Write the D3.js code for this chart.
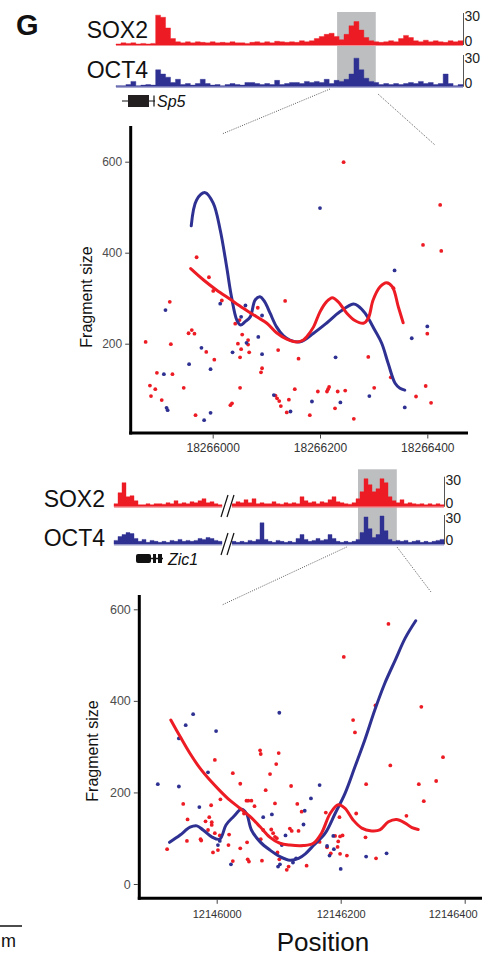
<!DOCTYPE html>
<html>
<head>
<meta charset="utf-8">
<script src="https://cdn.jsdelivr.net/npm/d3@7"></script>
<style>
body { margin: 0; background: #fff; }
svg { display: block; font-family: "Liberation Sans", Arial, sans-serif; }
</style>
</head>
<body>
<svg></svg>
<script>
const size = {w: 493, h: 957};
const svg = d3.select('svg').attr('width', size.w).attr('height', size.h);
const RED = '#ed1c24', BLUE = '#2e3192';

// coverage tracks (reads, 0-30 scale), one value per bin
const sox2Top = [1,2,1.5,2,1,1.5,1,1.5,28,26,16,6,3,2,3,2,3,2.5,2,3,2,2.5,2,3,2,2,1.5,2.5,3,2,
  3,2,3.5,3,2.5,3,2.5,4,3,4,6,8,10,11,8,5,10,18,22,14,7,4,3,2.5,3,4,3,6,9,7,4,3,4.5,3,4,3,2.5,4,3,4];
const oct4Top = [1,1,2,5,1,1.5,2,1.5,16,12,9,4,7,2,3,1.5,3,7,3,1.5,2,1,2,3,2,1.5,4,4,3,2,
  3,2,6,2,3,4,4,3,5,4,5,4,7,3,6,5,7,12,27,16,8,5,4,2,3,2,3,2,3,4,3,5,3,4,2,3,12,3,1,2];
const sox2BotL = [3,14,24,10,11,6,2,2,3,2,3,3,2.5,4,3,6,3,4,3,5,4,6,8,4,5,3,2];
const sox2BotR = [3,5,4,7,4,8,3,4,3,3,5,3,2.5,4,3,4,3,10,6,4,5,3,5,4,7,10,5,4,3,2.5,
  4,8,15,28,22,15,18,28,24,10,6,4,7,3,4,3,2.5,3,2,3,2,3,2];
const oct4BotL = [4,8,10,12,11,6,3,5,2,4,3,2,3,2,4,3,5,3,4,3,4,6,5,7,6,4,3];
const oct4BotR = [3,2,3,2,4,3,5,22,5,3,2,4,3,2,3,2,6,10,5,3,4,6,4,5,10,6,3,2,3,2,
  3,5,12,28,16,7,10,29,14,5,3,4,3,4,2,3,4,2,3,2,3,4,5];
const topHighlight = [44.6, 52.4];   // bins
const botHighlight = [31.5, 41.2];   // bins of right section

// Sp5 locus: [position, fragment size]
const topSox2Pts = [[18265875,204],[18265883,108],[18265885,85],[18265893,100],[18265896,136],[18265905,76],
  [18265920,292],[18265922,199],[18265925,133],[18265946,103],[18265955,223],[18265961,230],[18265966,222],
  [18265968,43],[18265970,390],[18265988,182],[18265993,346],[18266001,316],[18266003,165],[18266017,295],
  [18266033,65],[18266036,69],[18266042,244],[18266047,200],[18266050,252],[18266051,170],[18266051,103],
  [18266053,188],[18266055,220],[18266066,208],[18266066,198],[18266068,181],[18266084,279],[18266090,137],
  [18266092,146],[18266122,186],[18266135,294],[18266117,86],[18266120,80],[18266124,74],[18266127,63],
  [18266138,49],[18266142,77],[18266153,100],[18266160,167],[18266181,43],[18266196,95],[18266213,95],
  [18266215,100],[18266217,105],[18266228,58],[18266233,95],[18266244,599],[18266247,97],[18266263,35],
  [18266290,171],[18266301,103],[18266332,126],[18266337,322],[18266379,84],[18266392,417],[18266397,107],
  [18266400,222],[18266407,70],[18266424,505],[18266426,404]];
const topOct4Pts = [[18265912,274],[18265909,133],[18265914,59],[18265916,54],[18265956,155],[18265979,191],
  [18265984,32],[18265996,144],[18265996,48],[18266014,288],[18266037,181],[18266053,259],[18266061,284],
  [18266063,202],[18266085,215],[18266092,262],[18266092,177],[18266114,87],[18266145,51],[18266185,73],
  [18266200,498],[18266229,170],[18266238,71],[18266292,85],[18266339,361],[18266358,60],[18266371,212],
  [18266400,238]];
const topSox2Fit = [[18265959,365],[18265983,340],[18266007,318],[18266032,298],[18266057,278],[18266082,259],
  [18266101,245],[18266119,224],[18266138,210],[18266157,204],[18266169,208],[18266175,215],[18266188,237],
  [18266200,270],[18266212,292],[18266223,301],[18266234,292],[18266250,267],[18266265,251],[18266281,245],
  [18266290,256],[18266299,296],[18266312,325],[18266324,334],[18266335,325],[18266346,281],[18266355,246]];
const topOct4Fit = [[18265960,459],[18265970,516],[18265986,532],[18266001,509],[18266014,450],[18266026,369],
  [18266035,303],[18266045,252],[18266052,241],[18266060,248],[18266070,259],[18266079,296],[18266088,303],
  [18266097,292],[18266107,267],[18266119,237],[18266132,217],[18266144,208],[18266163,204],[18266188,223],
  [18266212,245],[18266237,270],[18266262,287],[18266271,283],[18266284,267],[18266302,230],[18266315,201],
  [18266327,157],[18266340,113],[18266349,102],[18266358,98]];

// Zic1 locus: [position, fragment size]
const botSox2Pts = [[12145920,76],[12145946,175],[12145952,94],[12145953,141],[12145974,98],[12145975,95],
  [12145982,137],[12145988,146],[12145991,172],[12145992,135],[12145992,129],[12145986,118],[12145997,271],
  [12145994,69],[12145997,111],[12146002,74],[12146005,106],[12146006,185],[12146019,85],[12146020,108],
  [12146026,242],[12146026,50],[12146038,219],[12146038,78],[12146048,182],[12146051,182],[12146056,182],
  [12146044,154],[12146049,91],[12146061,170],[12146050,54],[12146052,49],[12146070,292],[12146071,284],
  [12146079,205],[12146073,51],[12146071,98],[12146086,240],[12146094,176],[12146096,262],[12146100,286],
  [12146075,118],[12146088,119],[12146091,111],[12146094,103],[12146097,100],[12146098,69],[12146101,54],
  [12146113,31],[12146116,38],[12146120,214],[12146130,175],[12146137,158],[12146118,121],[12146121,116],
  [12146132,116],[12146145,40],[12146277,568],[12146205,496],[12146256,390],[12146330,387],[12146220,358],
  [12146223,331],[12146280,259],[12146365,277],[12146241,218],[12146326,218],[12146354,225],[12146334,181],
  [12146176,156],[12146225,154],[12146198,146],[12146306,149],[12146191,105],[12146199,104],[12146203,106],
  [12146166,92],[12146196,93],[12146195,81],[12146178,80],[12146240,102],[12146199,66],[12146184,67],
  [12146210,62],[12146257,56]];
const botOct4Pts = [[12145905,218],[12145939,213],[12145939,318],[12145950,347],[12145962,371],[12145999,334],
  [12145986,244],[12145972,168],[12146005,94],[12146002,85],[12146023,43],[12146101,374],[12146075,146],
  [12146089,152],[12146111,106],[12146105,85],[12146099,38],[12146102,43],[12146123,47],[12146128,56],
  [12146140,130],[12146142,160],[12146152,187],[12146166,216],[12146178,83],[12146182,62],[12146188,105],
  [12146189,76],[12146200,33],[12146241,60],[12146274,67]];
const botSox2Fit = [[12145926,358],[12145941,322],[12145957,285],[12145973,253],[12145989,227],[12146005,204],
  [12146021,183],[12146038,165],[12146054,147],[12146070,125],[12146086,102],[12146102,89],[12146118,85],
  [12146140,84],[12146156,89],[12146169,111],[12146183,154],[12146196,173],[12146207,165],[12146220,140],
  [12146234,122],[12146250,116],[12146263,118],[12146277,136],[12146290,141],[12146304,133],[12146315,123],
  [12146325,119]];
const botOct4Fit = [[12145924,91],[12145941,107],[12145957,124],[12145968,127],[12145978,118],[12145992,103],
  [12146005,98],[12146015,129],[12146027,147],[12146040,163],[12146048,154],[12146056,118],[12146070,92],
  [12146086,74],[12146102,60],[12146118,52],[12146132,56],[12146143,66],[12146156,84],[12146175,111],
  [12146191,154],[12146207,198],[12146223,256],[12146239,315],[12146255,380],[12146271,438],[12146288,489],
  [12146304,537],[12146321,575]];

const topTicksX = [18266000, 18266200, 18266400];
const botTicksX = [12146000, 12146200, 12146400];

function drawTrack(values, xr, base, top, color, lineColor) {
  const x = d3.scaleLinear().domain([0, values.length]).range(xr);
  const y = d3.scaleLinear().domain([0, 30]).range([base, top]);
  const area = d3.area()
    .x((d, i) => x(i))
    .y0(base)
    .y1(d => y(d))
    .curve(d3.curveStepAfter);
  svg.append('path')
    .datum(values.concat([values[values.length - 1]]))
    .attr('d', area)
    .attr('fill', color)
    .attr('stroke', color)
    .attr('stroke-width', 0.4);
  svg.append('line')
    .attr('x1', xr[0]).attr('x2', xr[1])
    .attr('y1', base + 0.5).attr('y2', base + 0.5)
    .attr('stroke', lineColor).attr('stroke-width', 1.2);
  return x;
}

function drawScaleBar(xPos, base, top) {
  svg.append('line')
    .attr('x1', xPos).attr('x2', xPos).attr('y1', top).attr('y2', base)
    .attr('stroke', '#555').attr('stroke-width', 1);
  svg.append('text').attr('x', xPos + 1).attr('y', top + 8).text('30')
    .attr('font-size', 14).attr('fill', '#222');
  svg.append('text').attr('x', xPos + 1).attr('y', base + 1).text('0')
    .attr('font-size', 14).attr('fill', '#222');
}

function dotted(x1, y1, x2, y2) {
  svg.append('line')
    .attr('x1', x1).attr('y1', y1).attr('x2', x2).attr('y2', y2)
    .attr('stroke', '#333').attr('stroke-width', 0.8)
    .attr('stroke-dasharray', '1,1.3');
}

function drawScatter(o) {
  const x = d3.scaleLinear().domain(o.xDomain).range(o.xRange);
  const y = d3.scaleLinear().domain([0, 600]).range(o.yRange);
  const g = svg.append('g');

  const yAxis = d3.axisLeft(y).tickValues(o.yTicks).tickSize(4).tickPadding(3);
  const ya = g.append('g').attr('transform', `translate(${o.left - 1.5},0)`).call(yAxis);
  ya.select('.domain').remove();
  ya.selectAll('line').attr('stroke', '#444');
  ya.selectAll('text').attr('fill', '#4d4d4d').attr('font-size', o.yFont)
    .style('font-family', '"Liberation Sans", Arial, sans-serif');

  const xAxis = d3.axisBottom(x).tickValues(o.xTicks).tickSize(4).tickPadding(o.xPad)
    .tickFormat(d3.format('d'));
  const xa = g.append('g').attr('transform', `translate(0,${o.bottom + 1.5})`).call(xAxis);
  xa.select('.domain').remove();
  xa.selectAll('line').attr('stroke', '#444');
  xa.selectAll('text').attr('fill', '#333').attr('font-size', o.xFont)
    .style('font-family', '"Liberation Sans", Arial, sans-serif');
  if (o.lastShift) xa.selectAll('text').filter((d, i) => i === o.xTicks.length - 1).attr('x', o.lastShift);

  g.append('line').attr('x1', o.left).attr('x2', o.left).attr('y1', o.bottom + 1.5).attr('y2', o.top)
    .attr('stroke', '#000').attr('stroke-width', 3);
  g.append('line').attr('x1', o.left - 1.5).attr('x2', o.right).attr('y1', o.bottom).attr('y2', o.bottom)
    .attr('stroke', '#000').attr('stroke-width', 3);

  const series = [[o.redPts, RED], [o.bluePts, BLUE]];
  series.forEach(([pts, c]) => {
    g.append('g').selectAll('circle').data(pts).enter().append('circle')
      .attr('cx', d => x(d[0])).attr('cy', d => y(d[1])).attr('r', 1.9).attr('fill', c);
  });

  const line = d3.line().x(d => x(d[0])).y(d => y(d[1])).curve(d3.curveCatmullRom.alpha(0.5));
  g.append('path').datum(o.blueFit).attr('d', line).attr('fill', 'none')
    .attr('stroke', BLUE).attr('stroke-width', 3).attr('stroke-linecap', 'round');
  g.append('path').datum(o.redFit).attr('d', line).attr('fill', 'none')
    .attr('stroke', RED).attr('stroke-width', 3).attr('stroke-linecap', 'round');

  g.append('text')
    .attr('transform', `translate(${o.labelX},${o.labelY}) rotate(-90)`)
    .attr('text-anchor', 'middle').attr('font-size', 16).attr('fill', '#111')
    .text('Fragment size');
}

// ---------- panel label ----------
svg.append('text').attr('x', 16).attr('y', 35).text('G')
  .attr('font-size', 29).attr('font-weight', 'bold').attr('fill', '#111');

// ---------- Sp5 tracks ----------
const xTopTrack = d3.scaleLinear().domain([0, sox2Top.length]).range([116, 463]);
svg.append('rect')
  .attr('x', xTopTrack(topHighlight[0])).attr('y', 12)
  .attr('width', xTopTrack(topHighlight[1]) - xTopTrack(topHighlight[0])).attr('height', 75)
  .attr('fill', '#bcbec0');
drawTrack(sox2Top, [116, 463], 45, 13, RED, '#f28c90');
drawTrack(oct4Top, [116, 463], 86.7, 55, BLUE, '#8f91c6');
drawScaleBar(463.5, 45, 13);
drawScaleBar(463.5, 86.7, 55);
svg.append('text').attr('x', 148).attr('y', 38).attr('text-anchor', 'end')
  .attr('font-size', 23).attr('fill', '#111').text('SOX2');
svg.append('text').attr('x', 148).attr('y', 78).attr('text-anchor', 'end')
  .attr('font-size', 23).attr('fill', '#111').text('OCT4');

// Sp5 gene model
svg.append('line').attr('x1', 122).attr('x2', 155).attr('y1', 101).attr('y2', 101)
  .attr('stroke', '#111').attr('stroke-width', 1.2);
svg.append('rect').attr('x', 128).attr('y', 95).attr('width', 21).attr('height', 12).attr('fill', '#231f20');
svg.append('line').attr('x1', 154).attr('x2', 154).attr('y1', 95.5).attr('y2', 106.5)
  .attr('stroke', '#111').attr('stroke-width', 1.2);
svg.append('text').attr('x', 157).attr('y', 107).attr('font-size', 16).attr('font-style', 'italic')
  .attr('fill', '#111').text('Sp5');

dotted(330, 89, 222, 134);
dotted(378, 94, 435, 145);

drawScatter({
  xDomain: [18266000, 18266400], xRange: [212.7, 427.3], yRange: [434.7, 161.7],
  left: 130.7, right: 468, top: 126, bottom: 433,
  xTicks: topTicksX, yTicks: [200, 400, 600], yFont: 12, xFont: 12, xPad: 5,
  redPts: topSox2Pts, bluePts: topOct4Pts, redFit: topSox2Fit, blueFit: topOct4Fit,
  labelX: 92, labelY: 297
});

// ---------- Zic1 tracks ----------
const xBotR = d3.scaleLinear().domain([0, sox2BotR.length]).range([232, 444]);
svg.append('rect')
  .attr('x', xBotR(botHighlight[0])).attr('y', 469.3)
  .attr('width', xBotR(botHighlight[1]) - xBotR(botHighlight[0])).attr('height', 75)
  .attr('fill', '#bcbec0');
drawTrack(sox2BotL, [114, 222], 506.7, 476.7, RED, '#f28c90');
drawTrack(sox2BotR, [232, 444], 506.7, 476.7, RED, '#f28c90');
drawTrack(oct4BotL, [114, 222], 544.3, 515, BLUE, '#8f91c6');
drawTrack(oct4BotR, [232, 444], 544.3, 515, BLUE, '#8f91c6');
drawScaleBar(444.5, 506.7, 476.7);
drawScaleBar(444.5, 544.3, 515);
svg.append('text').attr('x', 105).attr('y', 507).attr('text-anchor', 'end')
  .attr('font-size', 23).attr('fill', '#111').text('SOX2');
svg.append('text').attr('x', 105).attr('y', 546).attr('text-anchor', 'end')
  .attr('font-size', 23).attr('fill', '#111').text('OCT4');

// axis break marks
[[495, 517], [533, 555]].forEach(([y1, y2]) => {
  [0, 6].forEach(dx => {
    svg.append('line').attr('x1', 221 + dx).attr('y1', y2).attr('x2', 228 + dx).attr('y2', y1)
      .attr('stroke', '#111').attr('stroke-width', 1.2);
  });
});

// Zic1 gene model
svg.append('line').attr('x1', 136).attr('x2', 163).attr('y1', 558.5).attr('y2', 558.5)
  .attr('stroke', '#111').attr('stroke-width', 1.5);
svg.append('rect').attr('x', 136).attr('y', 554).attr('width', 15).attr('height', 9).attr('rx', 2).attr('fill', '#111');
svg.append('rect').attr('x', 153).attr('y', 554).attr('width', 3).attr('height', 9).attr('fill', '#111');
svg.append('rect').attr('x', 158).attr('y', 554).attr('width', 4).attr('height', 9).attr('fill', '#111');
svg.append('text').attr('x', 168).attr('y', 565).attr('font-size', 16).attr('font-style', 'italic')
  .attr('fill', '#111').text('Zic1');

dotted(346.7, 547, 222, 605);
dotted(397, 547, 431, 592);

drawScatter({
  xDomain: [12146000, 12146400], xRange: [216.7, 464.7], yRange: [884, 609.3],
  left: 139.3, right: 482, top: 595, bottom: 898.3,
  xTicks: botTicksX, yTicks: [0, 200, 400, 600], yFont: 12.5, xFont: 11, xPad: 6, lastShift: -12,
  redPts: botSox2Pts, bluePts: botOct4Pts, redFit: botSox2Fit, blueFit: botOct4Fit,
  labelX: 98, labelY: 751
});

svg.append('text').attr('x', 323).attr('y', 951).attr('text-anchor', 'middle')
  .attr('font-size', 26).attr('fill', '#111').text('Position');

// clipped neighbour panel remnant
svg.append('line').attr('x1', 0).attr('x2', 22).attr('y1', 926).attr('y2', 926)
  .attr('stroke', '#111').attr('stroke-width', 1.5);
svg.append('text').attr('x', 1).attr('y', 947).attr('font-size', 18).attr('fill', '#111').text('m');
</script>
</body>
</html>
